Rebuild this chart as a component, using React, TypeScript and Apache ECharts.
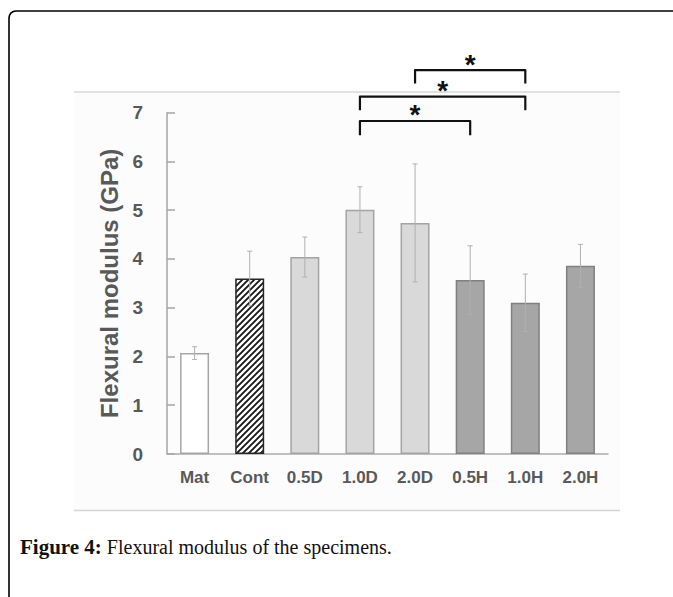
import React, { useEffect, useRef } from "react";
import * as echarts from "echarts";

const categories = ["Mat", "Cont", "0.5D", "1.0D", "2.0D", "0.5H", "1.0H", "2.0H"];
const modulus = [2.07, 3.6, 4.04, 5.01, 4.74, 3.57, 3.1, 3.86];
const errorSD = [0.13, 0.56, 0.41, 0.47, 1.21, 0.7, 0.59, 0.44];
const groups = ["matrix", "control", "D", "D", "D", "H", "H", "H"];
const yMin = 0;
const yMax = 7;
const yInterval = 1;
const yAxisTitle = "Flexural modulus (GPa)";
// significance brackets
const bracketFrom = ["2.0D", "1.0D", "1.0D"];
const bracketTo = ["1.0H", "1.0H", "0.5H"];
const bracketTop = [7.875, 7.33, 6.83];
const bracketLeg = [7.6, 7.05, 6.54];
const bracketLabel = ["*", "*", "*"];
const captionBold = "Figure 4:";
const captionText = " Flexural modulus of the specimens.";

const AXIS_FONT = "'Liberation Sans', Arial, sans-serif";
const SERIF = "'Liberation Serif', 'Times New Roman', serif";
const TEXT_GRAY = "#595959";

function makeHatch(): HTMLCanvasElement {
  const s = 6;
  const c = document.createElement("canvas");
  c.width = s;
  c.height = s;
  const g = c.getContext("2d")!;
  g.fillStyle = "#ffffff";
  g.fillRect(0, 0, s, s);
  g.strokeStyle = "#1a1a1a";
  g.lineWidth = 1.9;
  g.beginPath();
  g.moveTo(-1, s + 1);
  g.lineTo(s + 1, -1);
  g.moveTo(-1, 1);
  g.lineTo(1, -1);
  g.moveTo(s - 1, s + 1);
  g.lineTo(s + 1, s - 1);
  g.stroke();
  return c;
}

function styleFor(group: string, hatch: HTMLCanvasElement) {
  switch (group) {
    case "matrix":
      return { color: "#ffffff", borderColor: "#a6a6a6", borderWidth: 1.5 };
    case "control":
      return {
        color: { image: hatch, repeat: "repeat" },
        borderColor: "#262626",
        borderWidth: 1.5,
      };
    case "D":
      return { color: "#d9d9d9", borderColor: "#a3a3a3", borderWidth: 1.5 };
    default:
      return { color: "#a6a6a6", borderColor: "#808080", borderWidth: 1.5 };
  }
}

export default function App() {
  const ref = useRef<HTMLDivElement>(null);

  useEffect(() => {
    if (!ref.current) return;
    const chart = echarts.init(ref.current, undefined, { renderer: "svg" });
    const hatch = makeHatch();

    const barData = modulus.map((v, i) => ({
      value: v,
      itemStyle: styleFor(groups[i], hatch),
    }));
    const errData = modulus.map((v, i) => [i, v - errorSD[i], v + errorSD[i]]);
    const brData = bracketFrom.map((f, i) => [
      categories.indexOf(f),
      categories.indexOf(bracketTo[i]),
      bracketTop[i],
      bracketLeg[i],
      i,
    ]);

    chart.setOption({
      animation: false,
      backgroundColor: "#ffffff",
      grid: { left: 167, right: 65, top: 112.7, bottom: 143, containLabel: false },
      xAxis: {
        type: "category",
        data: categories,
        axisLine: { lineStyle: { color: "#ababab", width: 1.5 } },
        axisTick: { show: false },
        axisLabel: {
          color: TEXT_GRAY,
          fontFamily: AXIS_FONT,
          fontWeight: "bold",
          fontSize: 17,
          margin: 15,
          interval: 0,
        },
      },
      yAxis: {
        type: "value",
        min: yMin,
        max: yMax,
        interval: yInterval,
        name: yAxisTitle,
        nameLocation: "middle",
        nameGap: 34,
        nameRotate: 90,
        nameTextStyle: {
          color: TEXT_GRAY,
          fontFamily: AXIS_FONT,
          fontWeight: "bold",
          fontSize: 24,
        },
        axisLine: { show: true, lineStyle: { color: "#a6a6a6", width: 1.5 } },
        axisTick: { show: true, inside: true, length: 8, lineStyle: { color: "#a6a6a6", width: 1.5 } },
        splitLine: { show: false },
        axisLabel: {
          color: TEXT_GRAY,
          fontFamily: AXIS_FONT,
          fontWeight: "bold",
          fontSize: 19,
          margin: 24,
        },
      },
      graphic: [
        {
          type: "rect",
          z: -10,
          shape: { x: 74, y: 92, width: 546, height: 418 },
          style: { fill: "#fcfcfc" },
          silent: true,
        },
        {
          type: "line",
          z: -9,
          shape: { x1: 74, y1: 92, x2: 620, y2: 92 },
          style: { stroke: "#d9d9d9", lineWidth: 1.5 },
          silent: true,
        },
        {
          type: "line",
          z: -9,
          shape: { x1: 74, y1: 510.5, x2: 620, y2: 510.5 },
          style: { stroke: "#d4d4d4", lineWidth: 1.5 },
          silent: true,
        },
        {
          type: "polyline",
          shape: {
            points: [
              [9, 640],
              [9, 18],
              [9.5, 15.3],
              [10.9, 13],
              [13.2, 11.5],
              [16, 11],
              [673, 11],
            ],
          },
          style: { fill: "none", stroke: "#000000", lineWidth: 1.6 },
          silent: true,
        },
        {
          type: "text",
          x: 20,
          y: 547,
          style: {
            text: "{b|" + captionBold + "}" + captionText,
            fontFamily: SERIF,
            fontSize: 20,
            fill: "#111111",
            verticalAlign: "middle",
            rich: {
              b: {
                fontFamily: SERIF,
                fontSize: 21,
                fontWeight: "bold",
                fill: "#111111",
              },
            },
          },
          silent: true,
        },
      ],
      series: [
        {
          type: "bar",
          data: barData,
          barWidth: 29,
          z: 2,
        },
        {
          type: "custom",
          z: 3,
          clip: false,
          data: errData,
          renderItem: (params: any, api: any) => {
            const x = api.value(0);
            const pLo = api.coord([x, api.value(1)]);
            const pHi = api.coord([x, api.value(2)]);
            const cap = 2.5;
            const st = { stroke: "#b0b0b0", lineWidth: 1 };
            return {
              type: "group",
              children: [
                { type: "line", shape: { x1: pHi[0], y1: pHi[1], x2: pLo[0], y2: pLo[1] }, style: st },
                { type: "line", shape: { x1: pHi[0] - cap, y1: pHi[1], x2: pHi[0] + cap, y2: pHi[1] }, style: st },
                { type: "line", shape: { x1: pLo[0] - cap, y1: pLo[1], x2: pLo[0] + cap, y2: pLo[1] }, style: st },
              ],
            };
          },
        },
        {
          type: "custom",
          z: 4,
          clip: false,
          data: brData,
          renderItem: (params: any, api: any) => {
            const a = api.value(0);
            const b = api.value(1);
            const top = api.value(2);
            const leg = api.value(3);
            const idx = api.value(4);
            const p1 = api.coord([a, leg]);
            const p2 = api.coord([a, top]);
            const p3 = api.coord([b, top]);
            const p4 = api.coord([b, leg]);
            return {
              type: "group",
              children: [
                {
                  type: "polyline",
                  shape: { points: [p1, p2, p3, p4] },
                  style: { stroke: "#111111", lineWidth: 2.2, fill: "none", lineJoin: "round" },
                },
                {
                  type: "text",
                  x: (p2[0] + p3[0]) / 2,
                  y: p2[1] - 6,
                  style: {
                    text: bracketLabel[idx],
                    fontFamily: AXIS_FONT,
                    fontWeight: "bold",
                    fontSize: 28,
                    fill: "#111111",
                    align: "center",
                    verticalAlign: "middle",
                  },
                },
              ],
            };
          },
        },
      ],
    });

    return () => {
      chart.dispose();
    };
  }, []);

  return (
    <div style={{ position: "absolute", left: 0, top: 0, width: 673, height: 597, background: "#fff", overflow: "hidden" }}>
      <div ref={ref} style={{ width: 673, height: 597 }} />
    </div>
  );
}
